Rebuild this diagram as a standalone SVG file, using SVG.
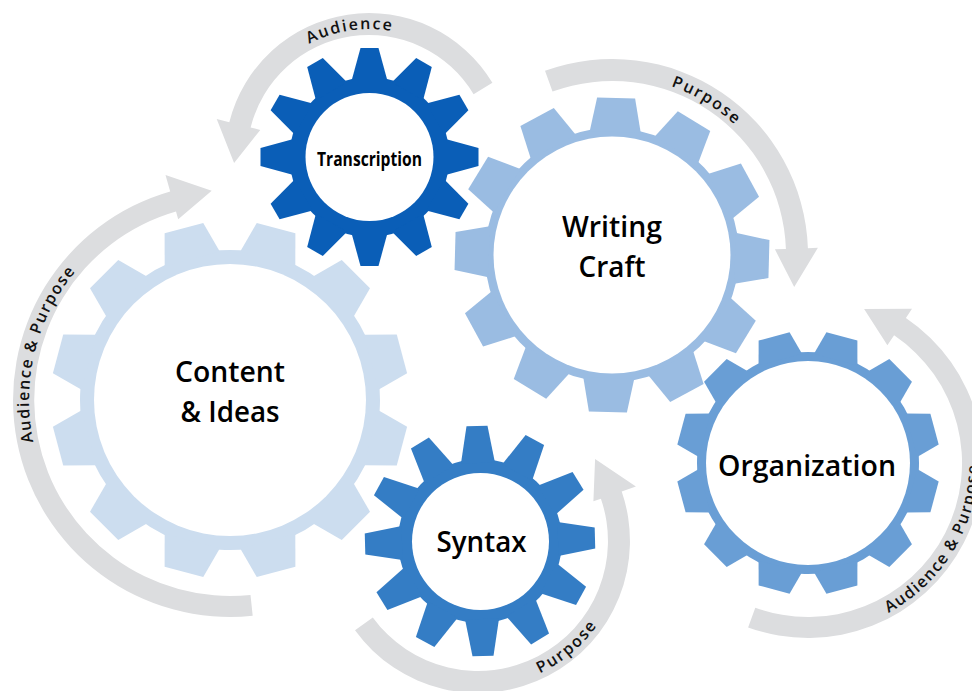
<svg xmlns="http://www.w3.org/2000/svg" xmlns:xlink="http://www.w3.org/1999/xlink" width="972" height="691" viewBox="0 0 972 691">
<style>
.band{fill:#DCDDDF;}
.atext{font-family:"Open Sans","Noto Sans",sans-serif;font-weight:600;font-size:16px;fill:#111;letter-spacing:1.8px;}
.label{font-family:"Open Sans","Noto Sans",sans-serif;font-weight:600;font-size:29.5px;fill:#000;text-anchor:middle;}
.hole{fill:#fff;}
.g1{fill:#CCDDEF;}
.g2{fill:#9ABCE2;}
.g3{fill:#699ED5;}
.g4{fill:#347DC5;}
.g5{fill:#0A5EB7;}
</style>
<defs>
<path id="tp1" d="M 273.0,72.4 A 128 128 0 0 1 435.7,47.7"/>
<path id="tp2" d="M 585.5,78.0 A 179 179 0 0 1 781.7,198.2"/>
<path id="tp3" d="M 90.4,544.6 A 201 201 0 0 1 174.6,206.8"/>
<path id="tp4" d="M 428.1,678.2 A 146 146 0 0 0 621.8,515.7"/>
<path id="tp5" d="M 805.0,633.0 A 170 170 0 0 0 956.7,380.6"/>
<polygon id="toothC" points="-28.5,-146 -20,-178 20,-178 28.5,-146"/>
<polygon id="toothW" points="-25.5,-123 -19,-157 19,-157 25.5,-123"/>
<polygon id="toothO" points="-22.5,-107 -16,-131 16,-131 22.5,-107"/>
<polygon id="toothS" points="-17,-78 -10.5,-115 10.5,-115 17,-78"/>
<polygon id="toothT" points="-18,-76 -9,-109 9,-109 18,-76"/>
</defs>

<g id="connectors">
<path class="band" d="M 492.4,82.8 A 144 144 0 0 0 229.3,122.2 L 216.7,119.0 L 234.1,162.9 L 260.3,129.9 L 250.6,127.5 A 122 122 0 0 1 473.6,94.2 Z"/>
<path class="band" d="M 545.0,70.8 A 196 196 0 0 1 807.9,248.2 L 817.9,247.8 L 794.2,287.1 L 774.9,249.3 L 785.9,248.9 A 174 174 0 0 0 552.5,91.5 Z"/>
<path class="band" d="M 252.7,615.8 A 217 217 0 0 1 170.2,191.4 L 165.5,175.1 L 211.7,190.8 L 178.2,219.3 L 176.0,211.6 A 196 196 0 0 0 250.5,594.9 Z"/>
<path class="band" d="M 355.0,630.3 A 152 152 0 0 0 621.7,491.5 L 635.9,486.6 L 595.1,459.0 L 593.4,501.3 L 600.9,498.7 A 130 130 0 0 1 372.8,617.4 Z"/>
<path class="band" d="M 748.1,627.4 A 175 175 0 0 0 905.9,317.9 L 912.0,308.8 L 864.1,308.9 L 887.4,345.3 L 894.1,335.3 A 154 154 0 0 1 755.3,607.7 Z"/>
<text class="atext"><textPath href="#tp1" startOffset="50%" text-anchor="middle">Audience</textPath></text>
<text class="atext"><textPath href="#tp2" startOffset="50%" text-anchor="middle">Purpose</textPath></text>
<text class="atext" style="letter-spacing:1.5px"><textPath href="#tp3" startOffset="50%" text-anchor="middle">Audience &amp; Purpose</textPath></text>
<text class="atext"><textPath href="#tp4" startOffset="50%" text-anchor="middle">Purpose</textPath></text>
<text class="atext" style="letter-spacing:1.5px"><textPath href="#tp5" startOffset="50%" text-anchor="middle">Audience &amp; Purpose</textPath></text>
</g>

<g id="content-ideas">
<g class="g1" transform="translate(230,400) rotate(15)">
<circle r="150"/>
<use href="#toothC"/><use href="#toothC" transform="rotate(30)"/><use href="#toothC" transform="rotate(60)"/><use href="#toothC" transform="rotate(90)"/><use href="#toothC" transform="rotate(120)"/><use href="#toothC" transform="rotate(150)"/><use href="#toothC" transform="rotate(180)"/><use href="#toothC" transform="rotate(210)"/><use href="#toothC" transform="rotate(240)"/><use href="#toothC" transform="rotate(270)"/><use href="#toothC" transform="rotate(300)"/><use href="#toothC" transform="rotate(330)"/>
</g>
<circle class="hole" cx="230" cy="400" r="136"/>
<text class="label" x="230" y="382" textLength="110" lengthAdjust="spacingAndGlyphs">Content</text>
<text class="label" x="230" y="422" textLength="99" lengthAdjust="spacingAndGlyphs">&amp; Ideas</text>
</g>

<g id="writing-craft">
<g class="g2" transform="translate(612,255) rotate(1.5)">
<circle r="127"/>
<use href="#toothW"/><use href="#toothW" transform="rotate(30)"/><use href="#toothW" transform="rotate(60)"/><use href="#toothW" transform="rotate(90)"/><use href="#toothW" transform="rotate(120)"/><use href="#toothW" transform="rotate(150)"/><use href="#toothW" transform="rotate(180)"/><use href="#toothW" transform="rotate(210)"/><use href="#toothW" transform="rotate(240)"/><use href="#toothW" transform="rotate(270)"/><use href="#toothW" transform="rotate(300)"/><use href="#toothW" transform="rotate(330)"/>
</g>
<circle class="hole" cx="612" cy="255" r="118.5"/>
<text class="label" x="612" y="237" textLength="100" lengthAdjust="spacingAndGlyphs">Writing</text>
<text class="label" x="612" y="277" textLength="67" lengthAdjust="spacingAndGlyphs">Craft</text>
</g>

<g id="organization">
<g class="g3" transform="translate(808,463) rotate(15)">
<circle r="111"/>
<use href="#toothO"/><use href="#toothO" transform="rotate(30)"/><use href="#toothO" transform="rotate(60)"/><use href="#toothO" transform="rotate(90)"/><use href="#toothO" transform="rotate(120)"/><use href="#toothO" transform="rotate(150)"/><use href="#toothO" transform="rotate(180)"/><use href="#toothO" transform="rotate(210)"/><use href="#toothO" transform="rotate(240)"/><use href="#toothO" transform="rotate(270)"/><use href="#toothO" transform="rotate(300)"/><use href="#toothO" transform="rotate(330)"/>
</g>
<circle class="hole" cx="808" cy="463" r="102"/>
<text class="label" x="807" y="476" textLength="178" lengthAdjust="spacingAndGlyphs">Organization</text>
</g>

<g id="syntax">
<g class="g4" transform="translate(480,541) rotate(-1.5)">
<circle r="82"/>
<use href="#toothS"/><use href="#toothS" transform="rotate(30)"/><use href="#toothS" transform="rotate(60)"/><use href="#toothS" transform="rotate(90)"/><use href="#toothS" transform="rotate(120)"/><use href="#toothS" transform="rotate(150)"/><use href="#toothS" transform="rotate(180)"/><use href="#toothS" transform="rotate(210)"/><use href="#toothS" transform="rotate(240)"/><use href="#toothS" transform="rotate(270)"/><use href="#toothS" transform="rotate(300)"/><use href="#toothS" transform="rotate(330)"/>
</g>
<circle class="hole" cx="480.5" cy="541.5" r="68.5"/>
<text class="label" x="481.5" y="552" textLength="90" lengthAdjust="spacingAndGlyphs">Syntax</text>
</g>

<g id="transcription">
<g class="g5" transform="translate(369.5,157)">
<circle r="80"/>
<use href="#toothT"/><use href="#toothT" transform="rotate(30)"/><use href="#toothT" transform="rotate(60)"/><use href="#toothT" transform="rotate(90)"/><use href="#toothT" transform="rotate(120)"/><use href="#toothT" transform="rotate(150)"/><use href="#toothT" transform="rotate(180)"/><use href="#toothT" transform="rotate(210)"/><use href="#toothT" transform="rotate(240)"/><use href="#toothT" transform="rotate(270)"/><use href="#toothT" transform="rotate(300)"/><use href="#toothT" transform="rotate(330)"/>
</g>
<circle class="hole" cx="369.5" cy="157" r="64"/>
<text class="label" x="369.5" y="166" style="font-size:19.5px;font-weight:700" textLength="105" lengthAdjust="spacingAndGlyphs">Transcription</text>
</g>
</svg>
